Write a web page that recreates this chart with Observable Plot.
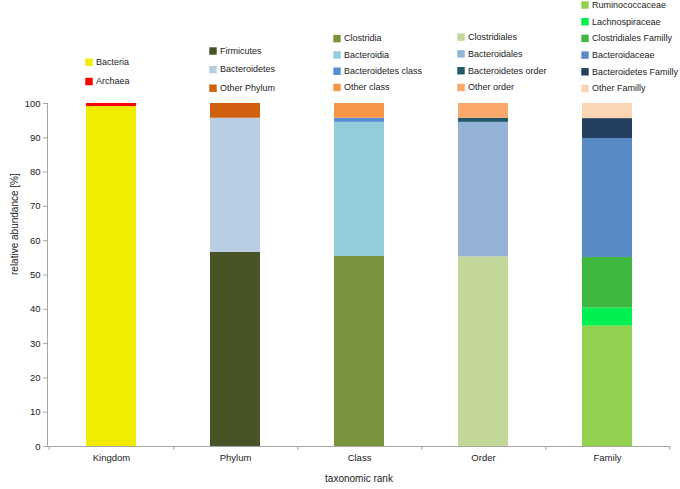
<!DOCTYPE html>
<html>
<head>
<meta charset="utf-8">
<script src="https://cdn.jsdelivr.net/npm/d3@7"></script>
<script src="https://cdn.jsdelivr.net/npm/@observablehq/plot@0.6"></script>
<style>
  html, body { margin: 0; padding: 0; background: #fff; }
</style>
</head>
<body>
<div id="chart"></div>
<script>
const ranks = ["Kingdom", "Phylum", "Class", "Order", "Family"];
const taxa = [
  "Bacteria", "Archaea",
  "Firmicutes", "Bacteroidetes", "Other Phylum",
  "Clostridia", "Bacteroidia", "Bacteroidetes class", "Other class",
  "Clostridiales", "Bacteroidales", "Bacteroidetes order", "Other order",
  "Ruminococcaceae", "Lachnospiraceae", "Clostridiales Familly", "Bacteroidaceae", "Bacteroidetes Familly", "Other Familly"
];
const taxonRank = [
  "Kingdom", "Kingdom",
  "Phylum", "Phylum", "Phylum",
  "Class", "Class", "Class", "Class",
  "Order", "Order", "Order", "Order",
  "Family", "Family", "Family", "Family", "Family", "Family"
];
const abundance = [
  99.1, 0.9,
  56.6, 39.1, 4.3,
  55.4, 39.1, 1.2, 4.3,
  55.3, 39.2, 1.2, 4.3,
  35.1, 5.3, 14.7, 34.7, 5.8, 4.4
];
const colors = [
  "#f2ec00", "#ff0000",
  "#475526", "#b9cde5", "#d0600e",
  "#77933c", "#93cddd", "#558ed5", "#f79646",
  "#c4d79b", "#95b3d7", "#215968", "#faa96a",
  "#92d050", "#00f050", "#40b840", "#5a8ac6", "#243f60", "#fcd5b5"
];
const yTicks = [0, 10, 20, 30, 40, 50, 60, 70, 80, 90, 100];

// layout of the per-column legends (pixels above the top of the plot frame)
const legendLayout = {
  Kingdom: {bottom: 22, step: 19.3},
  Phylum: {bottom: 15.3, step: 18.6},
  Class: {bottom: 16, step: 16.3},
  Order: {bottom: 16, step: 16.8},
  Family: {bottom: 15, step: 16.7}
};

const W = 680, H = 489;
const mL = 47, mR = 10, mT = 103, mB = 43;
const pxPerUnit = (H - mT - mB) / 100;
const step = (W - mL - mR) / ranks.length;

const table = taxa.map((t, i) => ({taxon: t, rank: taxonRank[i], value: abundance[i], color: colors[i]}));

// legend entries: listed top-down in stacking order, last entry nearest the plot
const legend = [];
for (const r of ranks) {
  const items = table.filter(d => d.rank === r);
  const n = items.length;
  items.forEach((d, k) => {
    const off = legendLayout[r].bottom + (n - 1 - k) * legendLayout[r].step;
    legend.push({...d, ly: 100 + off / pxPerUnit});
  });
}

const chart = Plot.plot({
  width: W,
  height: H,
  marginLeft: mL,
  marginRight: mR,
  marginTop: mT,
  marginBottom: mB,
  style: {fontFamily: "'Liberation Sans', Arial, sans-serif", fontSize: "9.5px", background: "#fff"},
  x: {domain: ranks, paddingInner: 0.6, paddingOuter: 0.3, label: null},
  y: {domain: [0, 100], label: null},
  color: {domain: taxa, range: colors},
  marks: [
    Plot.barY(table, {x: "rank", y: "value", fill: "taxon", order: null}),
    Plot.frame({anchor: "left", stroke: "#a6a6a6"}),
    Plot.ruleY([0], {stroke: "#a6a6a6"}),
    Plot.ruleX(ranks, {x: d => d, dx: step / 2, y1: 0, y2: -4 / pxPerUnit, stroke: "#a6a6a6"}),
    Plot.ruleX([ranks[0]], {x: d => d, dx: -step / 2, y1: 0, y2: -4 / pxPerUnit, stroke: "#a6a6a6"}),
    Plot.axisY({ticks: yTicks, tickSize: 4, tickPadding: 3, stroke: "#a6a6a6", fill: "#222", label: null}),
    Plot.axisX({tickSize: 0, tickPadding: 8, fill: "#222", label: null}),
    Plot.text(["relative abundance [%]"], {frameAnchor: "left", rotate: -90, dx: -33, fontSize: 10, fill: "#222"}),
    Plot.text(["taxonomic rank"], {frameAnchor: "bottom", dy: 35, fontSize: 10, fill: "#222"}),
    Plot.dot(legend, {x: "rank", y: "ly", fill: "taxon", symbol: "square", r: 4.2, dx: -22.5, stroke: null}),
    Plot.text(legend, {x: "rank", y: "ly", text: "taxon", textAnchor: "start", dx: -15.5, fontSize: 9, fill: "#222"})
  ]
});
document.getElementById("chart").appendChild(chart);
</script>
</body>
</html>
